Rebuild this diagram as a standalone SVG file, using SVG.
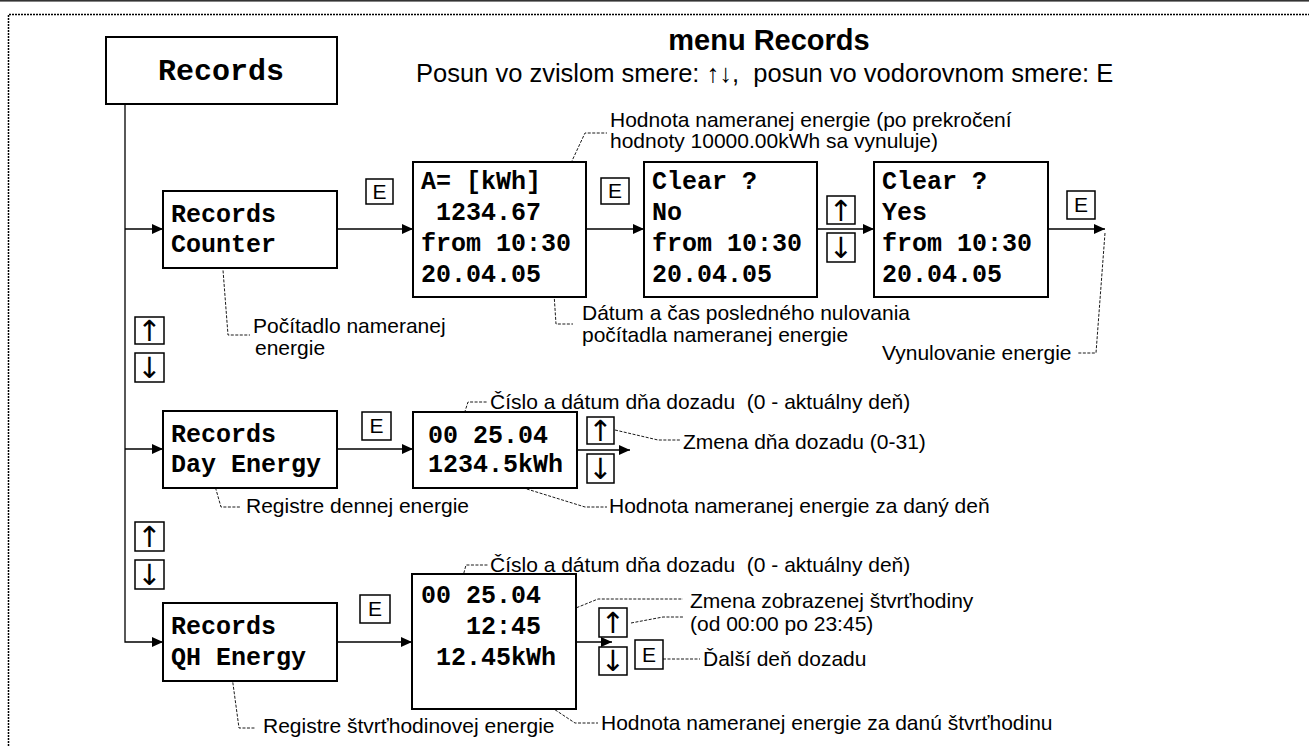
<svg xmlns="http://www.w3.org/2000/svg" width="1309" height="746" viewBox="0 0 1309 746">
<style>
.box{fill:#fff;stroke:#000;stroke-width:2}
.key{fill:#fff;stroke:#000;stroke-width:1.5}
.lcd{font-family:"Liberation Mono","Courier New",monospace;font-weight:bold;font-size:25px;fill:#000}
.note{font-family:"Liberation Sans",Arial,sans-serif;font-size:21px;fill:#000}
.kt{font-family:"Liberation Sans",Arial,sans-serif;font-size:21px;fill:#000;text-anchor:middle}
.ka{font-family:"DejaVu Sans","Liberation Sans",sans-serif;font-size:29px;fill:#000;text-anchor:middle}
.wire{fill:none;stroke:#000;stroke-width:1.3}
.lead{fill:none;stroke:#000;stroke-width:0.9;stroke-dasharray:3 1.5}
.frame{fill:none;stroke:#000;stroke-width:1.5;stroke-dasharray:2 1}
</style>
<defs>
<marker id="ah" markerUnits="userSpaceOnUse" markerWidth="11" markerHeight="10" refX="11" refY="5" orient="auto"><path d="M0,0L11,5L0,10z" fill="#000"/></marker>
</defs>

<rect width="1309" height="746" fill="#fff"/>
<rect x="0" y="0" width="1309" height="1.6" fill="#333"/>
<path class="frame" d="M8.5,746V14.5H1309"/>

<!-- heading -->
<g id="title">
<text x="769" y="50" text-anchor="middle" style="font-family:'Liberation Sans',Arial,sans-serif;font-weight:bold;font-size:29px">menu Records</text>
<text x="416" y="82" xml:space="preserve" style="font-family:'Liberation Sans',Arial,sans-serif;font-size:25.5px">Posun vo zvislom smere: ↑↓,  posun vo vodorovnom smere: E</text>
</g>

<!-- connectors -->
<g id="connectors">
<path class="wire" d="M125,104V642H163" marker-end="url(#ah)"/>
<path class="wire" d="M125,229H163" marker-end="url(#ah)"/>
<path class="wire" d="M125,449H163" marker-end="url(#ah)"/>
<path class="wire" d="M337,229H413" marker-end="url(#ah)"/>
<path class="wire" d="M586,229H644" marker-end="url(#ah)"/>
<path class="wire" d="M817,229H874" marker-end="url(#ah)"/>
<path class="wire" d="M1048,229H1105" marker-end="url(#ah)"/>
<path class="wire" d="M337,449H413" marker-end="url(#ah)"/>
<path class="wire" d="M577,450H630" marker-end="url(#ah)"/>
<path class="wire" d="M337,642H412" marker-end="url(#ah)"/>
<path class="wire" d="M576,642H612" marker-end="url(#ah)"/>
</g>

<!-- dashed leader lines to the notes -->
<g id="leaders">
<path class="lead" d="M550,208L585,133H607"/>
<path class="lead" d="M222,257L228,335H250"/>
<path class="lead" d="M552,263L556,324H573"/>
<path class="lead" d="M1105,233L1096,353H1077"/>
<path class="lead" d="M459,430L468,402H488"/>
<path class="lead" d="M615,430L658,440H680"/>
<path class="lead" d="M488,477L585,507H607"/>
<path class="lead" d="M213,479L221,507H240"/>
<path class="lead" d="M458,595L466,565H488"/>
<path class="lead" d="M539,623L598,599H683"/>
<path class="lead" d="M631,623L663,617H683"/>
<path class="lead" d="M663,659H700"/>
<path class="lead" d="M495,670L575,723H598"/>
<path class="lead" d="M231,669L239,728H255"/>
</g>

<!-- menu entry -->
<g id="records">
<rect class="box" x="106" y="37" width="231" height="67"/>
<text x="221" y="80" text-anchor="middle" style="font-family:'Liberation Mono','Courier New',monospace;font-weight:bold;font-size:30px">Records</text>
</g>

<!-- counter branch -->
<g id="counter">
<rect class="box" x="163" y="191" width="174" height="77"/>
<text class="lcd" x="171" y="222">Records</text>
<text class="lcd" x="171" y="252">Counter</text>
</g>
<g id="counter-value">
<rect class="box" x="413" y="162" width="173" height="135"/>
<text class="lcd" x="421" y="189">A= [kWh]</text>
<text class="lcd" x="421" y="220" xml:space="preserve"> 1234.67</text>
<text class="lcd" x="421" y="251">from 10:30</text>
<text class="lcd" x="421" y="282">20.04.05</text>
</g>
<g id="clear-no">
<rect class="box" x="644" y="162" width="173" height="135"/>
<text class="lcd" x="652" y="189">Clear ?</text>
<text class="lcd" x="652" y="220">No</text>
<text class="lcd" x="652" y="251">from 10:30</text>
<text class="lcd" x="652" y="282">20.04.05</text>
</g>
<g id="clear-yes">
<rect class="box" x="874" y="162" width="174" height="135"/>
<text class="lcd" x="882" y="189">Clear ?</text>
<text class="lcd" x="882" y="220">Yes</text>
<text class="lcd" x="882" y="251">from 10:30</text>
<text class="lcd" x="882" y="282">20.04.05</text>
</g>

<!-- day energy branch -->
<g id="day">
<rect class="box" x="163" y="411" width="174" height="77"/>
<text class="lcd" x="171" y="442">Records</text>
<text class="lcd" x="171" y="472">Day Energy</text>
</g>
<g id="day-value">
<rect class="box" x="413" y="412" width="164" height="76"/>
<text class="lcd" x="428" y="443">00 25.04</text>
<text class="lcd" x="428" y="472">1234.5kWh</text>
</g>

<!-- quarter-hour branch -->
<g id="qh">
<rect class="box" x="163" y="603" width="174" height="78"/>
<text class="lcd" x="171" y="634">Records</text>
<text class="lcd" x="171" y="665">QH Energy</text>
</g>
<g id="qh-value">
<rect class="box" x="412" y="574" width="164" height="135"/>
<text class="lcd" x="421" y="603">00 25.04</text>
<text class="lcd" x="421" y="634" xml:space="preserve">   12:45</text>
<text class="lcd" x="421" y="665" xml:space="preserve"> 12.45kWh</text>
</g>

<!-- keys -->
<g id="keys">
<rect class="key" x="366" y="179" width="27" height="25"/><text class="kt" x="379.5" y="199">E</text>
<rect class="key" x="601" y="178" width="28" height="26"/><text class="kt" x="615" y="198">E</text>
<rect class="key" x="827" y="196" width="28" height="28"/><text class="ka" x="841" y="221">↑</text>
<rect class="key" x="827" y="233" width="28" height="29"/><text class="ka" x="841" y="258">↓</text>
<rect class="key" x="1067" y="191" width="28" height="28"/><text class="kt" x="1081" y="212">E</text>
<rect class="key" x="135" y="317" width="29" height="27"/><text class="ka" x="149.5" y="341">↑</text>
<rect class="key" x="135" y="353" width="29" height="29"/><text class="ka" x="149.5" y="378">↓</text>
<rect class="key" x="362" y="412" width="29" height="28"/><text class="kt" x="376.5" y="433">E</text>
<rect class="key" x="587" y="417" width="27" height="27"/><text class="ka" x="600.5" y="441">↑</text>
<rect class="key" x="587" y="454" width="27" height="29"/><text class="ka" x="600.5" y="479">↓</text>
<rect class="key" x="135" y="522" width="29" height="29"/><text class="ka" x="149.5" y="547">↑</text>
<rect class="key" x="135" y="560" width="29" height="29"/><text class="ka" x="149.5" y="585">↓</text>
<rect class="key" x="360" y="595" width="30" height="28"/><text class="kt" x="375" y="616">E</text>
<rect class="key" x="599" y="608" width="28" height="29"/><text class="ka" x="613" y="633">↑</text>
<rect class="key" x="599" y="647" width="28" height="28"/><text class="ka" x="613" y="671">↓</text>
<rect class="key" x="635" y="640" width="28" height="29"/><text class="kt" x="649" y="662">E</text>
</g>

<!-- notes -->
<g id="notes">
<text class="note" x="610" y="127">Hodnota nameranej energie (po prekročení</text>
<text class="note" x="610" y="148">hodnoty 10000.00kWh sa vynuluje)</text>
<text class="note" x="253" y="333">Počítadlo nameranej</text>
<text class="note" x="255" y="355">energie</text>
<text class="note" x="582" y="320">Dátum a čas posledného nulovania</text>
<text class="note" x="582" y="342">počítadla nameranej energie</text>
<text class="note" x="882" y="360">Vynulovanie energie</text>
<text class="note" x="490" y="409" xml:space="preserve">Číslo a dátum dňa dozadu  (0 - aktuálny deň)</text>
<text class="note" x="683" y="449">Zmena dňa dozadu (0-31)</text>
<text class="note" x="246" y="513">Registre dennej energie</text>
<text class="note" x="609" y="513">Hodnota nameranej energie za daný deň</text>
<text class="note" x="490" y="572" xml:space="preserve">Číslo a dátum dňa dozadu  (0 - aktuálny deň)</text>
<text class="note" x="690" y="608">Zmena zobrazenej štvrťhodiny</text>
<text class="note" x="690" y="631">(od 00:00 po 23:45)</text>
<text class="note" x="703" y="666">Ďalší deň dozadu</text>
<text class="note" x="601" y="730">Hodnota nameranej energie za danú štvrťhodinu</text>
<text class="note" x="263" y="733">Registre štvrťhodinovej energie</text>
</g>
</svg>
